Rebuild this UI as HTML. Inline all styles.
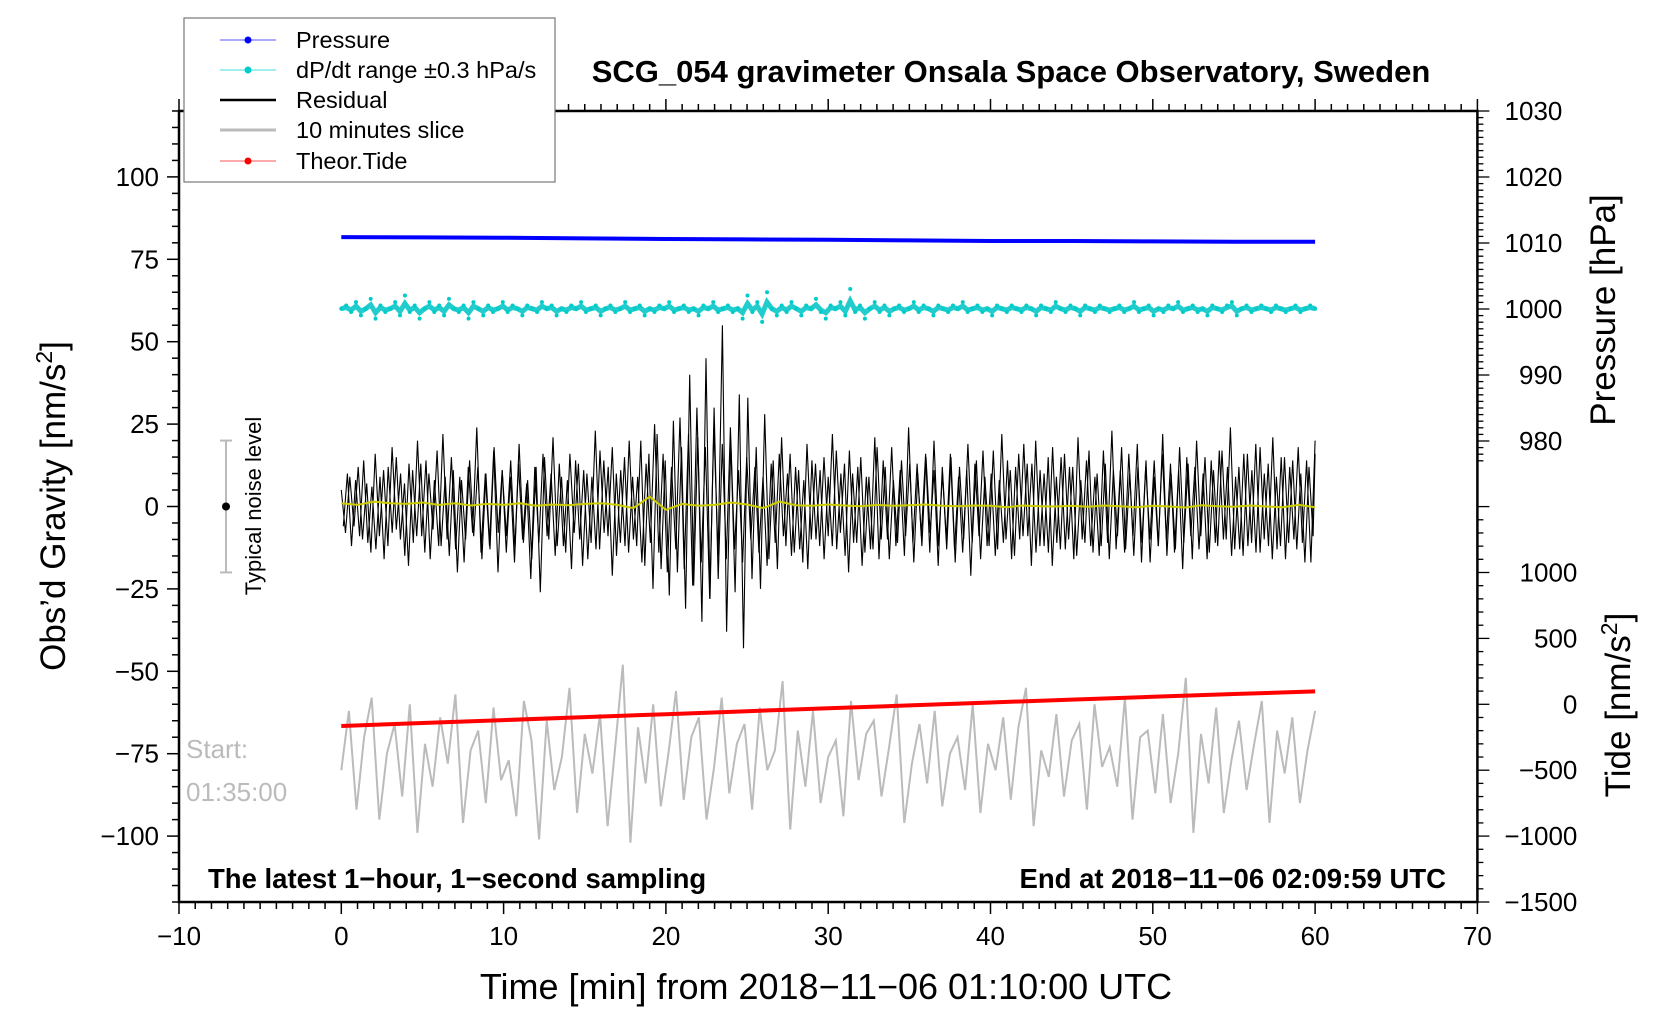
<!DOCTYPE html>
<html><head><meta charset="utf-8"><style>
html,body{margin:0;padding:0;background:#fff;}
svg text{font-family:"Liberation Sans",sans-serif;}
</style></head><body>
<svg id="chart" width="1676" height="1020" viewBox="0 0 1676 1020" xmlns="http://www.w3.org/2000/svg">
<rect width="1676" height="1020" fill="#fff"/>
<g id="marks"></g>
<g id="axes"></g>
<text x="1011" y="82" font-size="31" font-weight="bold" text-anchor="middle">SCG_054 gravimeter Onsala Space Observatory, Sweden</text>
<text x="208" y="888" font-size="27.5" font-weight="bold">The latest 1−hour, 1−second sampling</text>
<text x="1446" y="888" font-size="27.5" font-weight="bold" text-anchor="end">End at 2018−11−06 02:09:59 UTC</text>
<text x="186" y="758" font-size="26" fill="#bbb">Start:</text>
<text x="186" y="801" font-size="26" fill="#bbb">01:35:00</text>
<text x="826" y="999" font-size="36" text-anchor="middle">Time [min] from 2018−11−06 01:10:00 UTC</text>
<text transform="translate(65,506) rotate(-90)" font-size="35" text-anchor="middle">Obs’d Gravity [nm/s<tspan baseline-shift="super" font-size="23">2</tspan>]</text>
<text transform="translate(1615,310) rotate(-90)" font-size="35" text-anchor="middle">Pressure [hPa]</text>
<text transform="translate(1630,705) rotate(-90)" font-size="35" text-anchor="middle">Tide [nm/s<tspan baseline-shift="super" font-size="23">2</tspan>]</text>
<text transform="translate(261,506) rotate(-90)" font-size="22" text-anchor="middle">Typical noise level</text>
<g>
<rect x="184" y="18" width="371" height="164" fill="#fff" stroke="#777" stroke-width="1.2"/>
<line x1="220" y1="40" x2="276" y2="40" stroke="#55f" stroke-width="1"/><circle cx="248" cy="40" r="3.5" fill="#00f"/>
<text x="296" y="48" font-size="23.5">Pressure</text>
<line x1="220" y1="70" x2="276" y2="70" stroke="#4dd" stroke-width="1"/><circle cx="248" cy="70" r="3.5" fill="#0cc"/>
<text x="296" y="78" font-size="23.5">dP/dt range ±0.3 hPa/s</text>
<line x1="220" y1="100" x2="276" y2="100" stroke="#000" stroke-width="2.5"/>
<text x="296" y="108" font-size="23.5">Residual</text>
<line x1="220" y1="130" x2="276" y2="130" stroke="#bbb" stroke-width="3"/>
<text x="296" y="138" font-size="23.5">10 minutes slice</text>
<line x1="220" y1="161" x2="276" y2="161" stroke="#f55" stroke-width="1"/><circle cx="248" cy="161" r="3.5" fill="#f00"/>
<text x="296" y="169" font-size="23.5">Theor.Tide</text>
</g>
</svg>
<script>
// ---- data ----
const residual = [5,-8,9,-6,12,-10,7,-14,16,-9,11,-12,18,-7,10,-15,13,-11,20,-9,14,-16,8,-12,22,-10,15,-13,9,-17,12,-8,24,-14,10,-12,17,-20,11,-9,14,-13,19,-11,8,-16,12,-26,15,-10,21,-12,9,-14,16,-8,13,-18,10,-11,23,-13,14,-9,18,-15,11,-12,20,-10,9,-17,13,-11,25,-14,16,-20,12,-13,27,-19,22,-24,30,-17,18,-28,24,-15,55,-38,20,-26,34,-43,33,-22,18,-25,28,-16,14,-19,21,-12,16,-14,11,-17,19,-10,13,-12,15,-9,22,-13,10,-15,17,-11,12,-18,9,-13,21,-16,14,-10,18,-12,11,-15,24,-11,13,-9,16,-14,20,-12,10,-13,15,-17,12,-10,19,-11,14,-16,9,-12,17,-13,22,-10,11,-15,16,-9,13,-18,20,-12,10,-14,18,-11,15,-13,12,-16,21,-10,14,-12,9,-15,17,-11,23,-13,11,-14,16,-9,19,-17,12,-10,14,-12,22,-15,10,-13,18,-11,13,-16,20,-9,15,-14,11,-12,17,-10,24,-13,12,-15,16,-11,19,-14,10,-12,21,-13,15,-16,12,-10,18,-11,14,-17,20];
const residual2 = [-6,10,-12,8,-9,14,-11,6,-13,9,-16,12,-8,15,-10,7,-18,11,-9,13,-14,10,-7,17,-12,9,-15,11,-20,8,-10,14,-9,12,-16,10,-13,18,-8,11,-14,9,-17,13,-10,7,-22,12,-11,16,-9,10,-15,13,-12,8,-19,14,-10,11,-16,9,-13,17,-8,12,-21,10,-11,15,-14,9,-12,20,-18,16,-25,22,-19,14,-27,26,-20,18,-31,40,-24,21,-35,45,-28,30,-22,19,-16,24,-13,11,-17,15,-10,12,-14,9,-18,13,-11,16,-9,10,-15,12,-13,8,-19,14,-10,11,-16,9,-12,17,-8,13,-20,10,-11,15,-14,9,-13,18,-10,12,-16,8,-11,14,-9,13,-17,10,-12,15,-8,11,-18,12,-10,16,-13,9,-14,11,-21,13,-9,17,-12,10,-15,8,-11,14,-16,12,-10,19,-9,13,-14,11,-12,15,-18,9,-13,16,-10,12,-15,8,-11,17,-14,10,-12,13,-16,11,-9,18,-13,10,-15,12,-11,14,-17,9,-12,16,-10,13,-14,11,-19,15,-9,12,-13,10,-16,14,-11,17,-10,12,-15,9,-13,16,-12,11,-14,18,-10,13,-16,9,-12,15,-11,14,-13,10,-17,12,-9,16];
const smoothed = [1,0.5,1.5,1,0.8,1.2,0.5,1,0.3,0.8,0.5,1,0.2,0.6,0.4,0.8,1,0.5,-0.5,3,-1,0.8,0.2,0.5,1.2,0.6,-0.5,1.5,0.4,0.2,0.6,0.3,0.1,0.5,0.2,0.4,0.6,0.2,0.1,0.3,0.2,-0.2,0.3,0.1,0,0.2,-0.1,0.3,0.1,-0.2,0.2,0,-0.3,0.4,0.1,-0.1,0.3,0,-0.2,0.5,-0.2];
const slice = [-80,-62,-92,-70,-58,-95,-75,-66,-88,-60,-99,-72,-85,-64,-78,-57,-96,-74,-68,-90,-61,-83,-77,-94,-59,-71,-101,-65,-86,-76,-55,-93,-69,-81,-63,-97,-73,-48,-102,-67,-84,-60,-91,-75,-56,-89,-70,-64,-95,-79,-58,-87,-72,-66,-92,-61,-80,-74,-53,-98,-68,-85,-62,-90,-76,-71,-94,-59,-83,-69,-65,-88,-73,-57,-96,-78,-66,-84,-62,-91,-75,-70,-86,-60,-93,-72,-80,-64,-89,-67,-55,-97,-74,-82,-63,-88,-71,-66,-92,-60,-79,-73,-85,-58,-95,-70,-68,-87,-63,-90,-75,-52,-99,-69,-84,-61,-93,-77,-65,-86,-72,-59,-96,-68,-81,-64,-90,-74,-62];
const dpdt = [60,61,59,62,58,60,63,57,61,59,60,62,58,64,59,61,57,60,62,59,61,58,63,60,59,61,57,62,60,58,61,59,60,62,59,61,60,58,61,60,59,62,60,61,58,60,59,61,60,62,59,60,61,58,60,61,59,60,62,59,60,61,58,60,59,61,60,62,59,60,61,59,60,58,61,60,62,59,60,61,59,60,57,64,59,62,56,65,60,58,61,59,62,60,58,61,60,63,59,57,61,60,62,58,66,59,61,57,60,62,59,61,58,60,61,59,60,62,59,61,60,58,61,60,59,61,60,62,59,60,61,59,60,58,61,60,59,61,60,59,61,60,58,61,60,59,62,60,59,61,60,58,61,60,59,61,60,59,60,61,59,60,62,59,60,61,58,60,59,61,60,62,59,60,61,59,60,58,61,60,59,61,62,58,60,61,59,60,61,60,59,61,60,59,60,61,59,60,61,60];
const pressure = [1010.9,1010.85,1010.8,1010.7,1010.6,1010.55,1010.5,1010.4,1010.3,1010.3,1010.25,1010.2,1010.2];
const tide = [-165,-142,-120,-97,-75,-52,-30,-8,14,36,57,78,98];
const xTicks = [-10,0,10,20,30,40,50,60,70];
const yTicks = [100,75,50,25,0,-25,-50,-75,-100];
const pTicks = [1030,1020,1010,1000,990,980];
const tTicks = [1000,500,0,-500,-1000,-1500];

// ---- axis functions ----
const X = m => 341.3 + m * 16.23;
const YL = v => 506.5 - v * 3.296;
const YP = p => 309 - (p - 1000) * 6.6;
const YT = t => 704.3 - t * 0.1318;
const NS = 'http://www.w3.org/2000/svg';
const marks = document.getElementById('marks');
const axes = document.getElementById('axes');
function mk(tag, parent, attrs) { const e = document.createElementNS(NS, tag); for (const k in attrs) e.setAttribute(k, attrs[k]); parent.appendChild(e); return e; }
function pts(arr, xf, yf, off) { const n = arr.length; off = off || 0; return arr.map((v, i) => xf(Math.min(60, 60 * (i + off) / (n - 1))).toFixed(1) + ',' + yf(v).toFixed(1)).join(' '); }

let el = mk('polyline', marks, {points: pts(slice, X, YL), fill: 'none', stroke: '#bbb', 'stroke-width': 2});


el = mk('polyline', marks, {points: pts(tide, X, YT), fill: 'none', stroke: '#f00', 'stroke-width': 4});


el = mk('polyline', marks, {points: pts(residual, X, YL), fill: 'none', stroke: '#000', 'stroke-width': 1.1});


el = mk('polyline', marks, {points: pts(residual2, X, YL, 0.5), fill: 'none', stroke: '#000', 'stroke-width': 1.1});


el = mk('polyline', marks, {points: pts(smoothed, X, YL), fill: 'none', stroke: '#cc0', 'stroke-width': 2});


el = mk('polyline', marks, {points: pts(dpdt.map(v => 60 + (v - 60) * 0.4), X, YL), fill: 'none', stroke: '#2cc', 'stroke-width': 5});


dpdt.forEach((v, i) => {
  const c = mk('circle', marks, {cx: X(60 * i / (dpdt.length - 1)), cy: YL(v), r: 2, fill: '#0cc'});
  
  
});
el = mk('polyline', marks, {points: pts(pressure, X, YP), fill: 'none', stroke: '#00f', 'stroke-width': 4});


el = mk('line', marks, {x1: 226, x2: 226, y1: YL(20), y2: YL(-20), stroke: '#bbb', 'stroke-width': 2});


[20, -20].forEach(v => { const c = mk('line', marks, {x1: 220, x2: 232, y1: YL(v), y2: YL(v), stroke: '#bbb', 'stroke-width': 2});   });
el = mk('circle', marks, {cx: 226, cy: YL(0), r: 4, fill: '#000'});



const L = X(-10), R = X(70), T = YL(120), B = YL(-120);
el = mk('rect', axes, {x: L, y: T, width: R - L, height: B - T, fill: 'none', stroke: '#000', 'stroke-width': 2.5});


for (let m = -10; m <= 70; m++) {
  const major = m % 10 === 0, len = major ? 12 : 7;
  const t = mk('line', axes, {x1: X(m), x2: X(m), y1: B, y2: B + len, stroke: '#000', 'stroke-width': 1.5});
   
  const t2 = mk('line', axes, {x1: X(m), x2: X(m), y1: T, y2: T - len, stroke: '#000', 'stroke-width': 1.5});
   
}
xTicks.forEach(v => {
  const t = mk('text', axes, {x: X(v), y: B + 43, 'font-size': 26, 'text-anchor': 'middle'});
  t.textContent = String(v).replace('-', '−');
   
});
for (let v = -120; v <= 120; v += 5) {
  const major = v % 25 === 0, len = major ? 12 : 7;
  const t = mk('line', axes, {x1: L, x2: L - len, y1: YL(v), y2: YL(v), stroke: '#000', 'stroke-width': 1.5});
   
}
yTicks.forEach(v => {
  const t = mk('text', axes, {x: L - 20, y: YL(v) + 9, 'font-size': 26, 'text-anchor': 'end'});
  t.textContent = String(v).replace('-', '−');
   
});
for (let p = 977; p <= 1030; p++) {
  const len = p % 10 === 0 ? 12 : 6;
  const t = mk('line', axes, {x1: R, x2: R + len, y1: YP(p), y2: YP(p), stroke: '#000', 'stroke-width': 1.3});
   
}
pTicks.forEach(v => {
  const t = mk('text', axes, {x: R + 85, y: YP(v) + 9, 'font-size': 26, 'text-anchor': 'end'});
  t.textContent = v;
   
});
for (let tv = -1500; tv <= 1500; tv += 100) {
  const len = tv % 500 === 0 ? 12 : 6;
  const t = mk('line', axes, {x1: R, x2: R + len, y1: YT(tv), y2: YT(tv), stroke: '#000', 'stroke-width': 1.3});
   
}
tTicks.forEach(v => {
  const t = mk('text', axes, {x: R + 100, y: YT(v) + 9, 'font-size': 26, 'text-anchor': 'end'});
  t.textContent = String(v).replace('-', '−');
   
});
</script>
</body></html>
